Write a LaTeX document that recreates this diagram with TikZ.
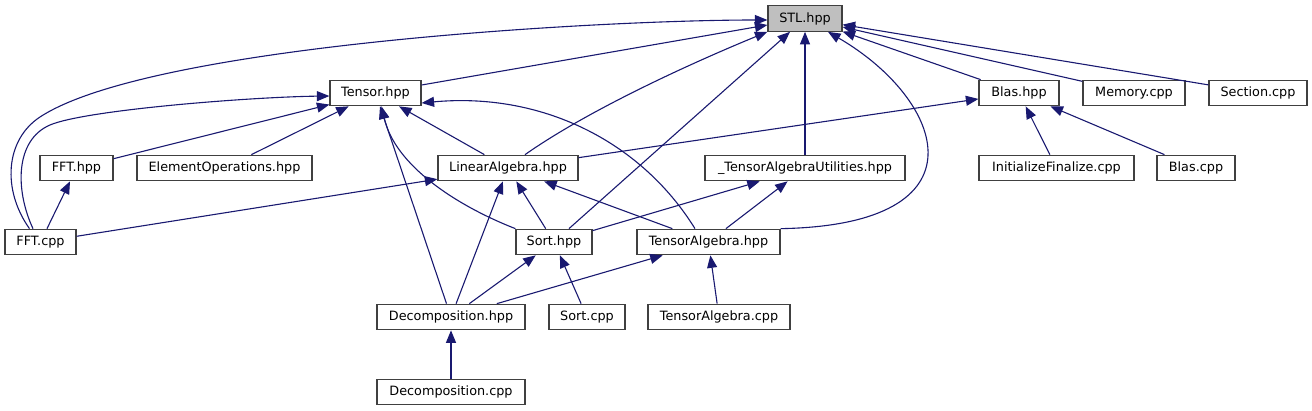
\documentclass[tikz,border=0pt]{standalone}
\usepackage{fontspec}
\setmainfont{DejaVu Sans}
\usetikzlibrary{arrows.meta}
\definecolor{edgeblue}{HTML}{191970}
\definecolor{boxline}{HTML}{404040}
\definecolor{stlgray}{HTML}{BFBFBF}
\begin{document}
\begin{tikzpicture}[x=1pt, y=-1pt,
    box/.style={draw=boxline, line width=1.2pt, fill=white, inner sep=0pt, minimum height=25.5pt, font=\fontsize{12.8}{15}\selectfont},
    dep/.style={draw=edgeblue, line width=1.1pt, -{Triangle[length=12.5pt,width=10pt]}}]
    \useasboundingbox (0,0) rectangle (1312,411);
    % Rang 0 und 1
    \node[box, fill=stlgray, minimum width=74pt] (stl) at (805,18.5){STL.hpp};
    \node[box, minimum width=91pt] (tensor) at (375.5,93){Tensor.hpp};
    \node[box, minimum width=80pt] (blashpp) at (1019,93){Blas.hpp};
    \node[box, minimum width=102pt] (memcpp) at (1134,93){Memory.cpp};
    \node[box, minimum width=98pt] (sectcpp) at (1258,93){Section.cpp};
    % Rang 2
    \node[box, minimum width=73pt] (ffthpp) at (76.5,168){FFT.hpp};
    \node[box, minimum width=175pt] (elemops) at (224.5,168){ElementOperations.hpp};
    \node[box, minimum width=140pt] (linalg) at (508,168){LinearAlgebra.hpp};
    \node[box, minimum width=200pt] (tautil) at (805,168){\_TensorAlgebraUtilities.hpp};
    \node[box, minimum width=155pt] (initfin) at (1056.5,168){InitializeFinalize.cpp};
    \node[box, minimum width=78pt] (blascpp) at (1196,168){Blas.cpp};
    % Rang 3 bis 5
    \node[box, minimum width=71pt] (fftcpp) at (40.5,242){FFT.cpp};
    \node[box, minimum width=76pt] (sorthpp) at (554,242){Sort.hpp};
    \node[box, minimum width=143pt] (tensalg) at (708.5,242){TensorAlgebra.hpp};
    \node[box, minimum width=148pt] (dechpp) at (451,317){Decomposition.hpp};
    \node[box, minimum width=76pt] (sortcpp) at (587,317){Sort.cpp};
    \node[box, minimum width=142pt] (tensalgcpp) at (719,317){TensorAlgebra.cpp};
    \node[box, minimum width=148pt] (deccpp) at (451,392){Decomposition.cpp};
    % Kanten nach STL.hpp
    \draw[dep] (tensor) -- (stl);
    \draw[dep] ([xshift=-11pt]fftcpp.north) .. controls (2,190) and (5,140) .. (40,117) .. controls (150,45) and (600,20) .. ([yshift=-1.5pt]stl.west);
    \draw[dep] ([xshift=17pt]linalg.north) .. controls (590,109) and (694,62) .. (stl.south west);
    \draw[dep] (sorthpp) -- (stl);
    \draw[dep] (tautil) -- (stl);
    \draw[dep] (tensalg.north east) .. controls (990,225) and (945,100) .. ([xshift=23pt]stl.south);
    \draw[dep] (blashpp) -- (stl);
    \draw[dep] (memcpp) -- (stl);
    \draw[dep] (sectcpp) -- (stl);
    % Kanten nach Tensor.hpp
    \draw[dep] ([xshift=-7.5pt]fftcpp.north) .. controls (15,190) and (15,140) .. (50,125) .. controls (85,110) and (250,97) .. ([yshift=-3pt]tensor.west);
    \draw[dep] (ffthpp) -- (tensor);
    \draw[dep] (elemops) -- (tensor);
    \draw[dep] (linalg) -- (tensor);
    \draw[dep] (sorthpp.north west) .. controls (455,205) and (395,165) .. ([xshift=6pt]tensor.south);
    \draw[dep] (dechpp) -- (tensor);
    \draw[dep] ([xshift=-13.5pt]tensalg.north) .. controls (640,140) and (540,92) .. ([yshift=-10pt]tensor.east);
    % restliche Kanten
    \draw[dep] (fftcpp) -- (ffthpp);
    \draw[dep] (fftcpp) -- (linalg);
    \draw[dep] (linalg) -- (blashpp);
    \draw[dep] (sorthpp) -- (linalg);
    \draw[dep] (dechpp) -- (linalg);
    \draw[dep] (tensalg) -- (linalg);
    \draw[dep] (sorthpp) -- (tautil);
    \draw[dep] (tensalg) -- (tautil);
    \draw[dep] (dechpp) -- (sorthpp);
    \draw[dep] (sortcpp) -- (sorthpp);
    \draw[dep] (dechpp) -- (tensalg);
    \draw[dep] (tensalgcpp) -- (tensalg);
    \draw[dep] (deccpp) -- (dechpp);
    \draw[dep] (initfin) -- (blashpp);
    \draw[dep] (blascpp) -- (blashpp);
\end{tikzpicture}
\end{document}
